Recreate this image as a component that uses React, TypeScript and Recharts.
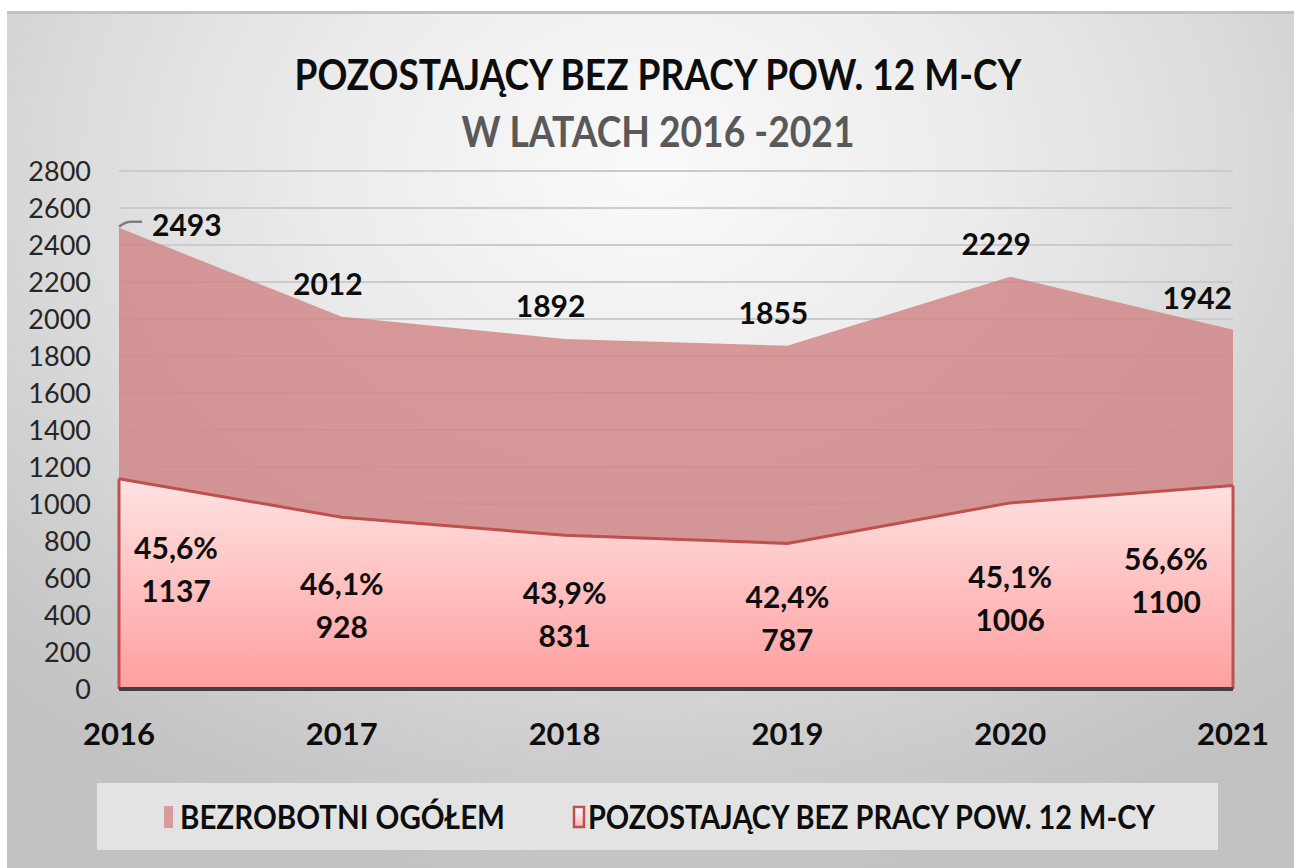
import React from 'react';
import {
  AreaChart,
  Area,
  XAxis,
  YAxis,
  CartesianGrid,
  LabelList,
  Legend,
  ReferenceLine,
} from 'recharts';

const categories = ['2016', '2017', '2018', '2019', '2020', '2021'];
const totalUnemployed = [2493, 2012, 1892, 1855, 2229, 1942];
const longTermUnemployed = [1137, 928, 831, 787, 1006, 1100];
const longTermShare = ['45,6%', '46,1%', '43,9%', '42,4%', '45,1%', '56,6%'];
const yTicks = [0, 200, 400, 600, 800, 1000, 1200, 1400, 1600, 1800, 2000, 2200, 2400, 2600, 2800];
const seriesNames = ['BEZROBOTNI OGÓŁEM', 'POZOSTAJĄCY BEZ PRACY POW. 12 M-CY'];
const titleLines = ['POZOSTAJĄCY BEZ PRACY POW. 12 M-CY', 'W LATACH 2016 -2021'];

const data = categories.map((year, i) => ({
  year,
  total: totalUnemployed[i],
  longTerm: longTermUnemployed[i],
}));

const W = 1294;
const H = 868;
const LEGEND_H = 67;
const MARGIN = { top: 171, right: 61, bottom: 52, left: 19 };
const XAXIS_H = 60;
const YAXIS_W = 100;
const PLOT_BOTTOM = H - MARGIN.bottom - XAXIS_H - LEGEND_H;
const FONT = 'Lato, "Open Sans", sans-serif';
const LAST = categories.length - 1;

const TotalLabel = (props: any) => {
  const { x, y, value, index } = props;
  const style = { fontFamily: FONT, fontWeight: 700, fontSize: 30, fill: '#0d0d0d' } as any;
  if (index === 0) {
    return (
      <g>
        <path
          d={`M ${x} ${y - 1} Q ${x + 6} ${y - 6} ${x + 12} ${y - 6} L ${x + 23} ${y - 6}`}
          stroke="#7f7f7f"
          strokeWidth={2.5}
          fill="none"
        />
        <text x={x + 33} y={y + 8} textAnchor="start" style={style}>
          {value}
        </text>
      </g>
    );
  }
  if (index === LAST) {
    return (
      <text x={x - 1} y={y - 21} textAnchor="end" style={style}>
        {value}
      </text>
    );
  }
  return (
    <text x={x - 14} y={y - 22} textAnchor="middle" style={style}>
      {value}
    </text>
  );
};

const LongTermLabel = (props: any) => {
  const { x, y, value, index } = props;
  const mid = (y + PLOT_BOTTOM) / 2;
  let cx = x;
  let base = mid - 8;
  if (index === 0) {
    cx = x + 57;
    base = mid - 25;
  } else if (index === LAST) {
    cx = x - 67;
    base = mid - 17;
  }
  const style = { fontFamily: FONT, fontWeight: 700, fontSize: 30, fill: '#0d0d0d' } as any;
  return (
    <g>
      <text x={cx} y={base} textAnchor="middle" style={style}>
        {longTermShare[index]}
      </text>
      <text x={cx} y={base + 43} textAnchor="middle" style={style}>
        {value}
      </text>
    </g>
  );
};

const LegendContent = () => (
  <svg width={1121} height={LEGEND_H} style={{ display: 'block' }}>
    <defs>
      <linearGradient id="legGrad" x1="0" y1="0" x2="0" y2="1">
        <stop offset="0%" stopColor="#ffffff" />
        <stop offset="100%" stopColor="#ffb3b3" />
      </linearGradient>
    </defs>
    <rect x={0} y={0} width={1121} height={LEGEND_H} fill="#e3e3e3" />
    <rect x={67} y={23} width={9} height={22} fill="#d69b9b" />
    <text
      x={83}
      y={46}
      textLength={325}
      lengthAdjust="spacingAndGlyphs"
      style={{ fontFamily: FONT, fontWeight: 700, fontSize: 32, fill: '#0d0d0d' } as any}
    >
      {seriesNames[0]}
    </text>
    <rect x={477} y={24} width={10} height={20} fill="url(#legGrad)" stroke="#c0504d" strokeWidth={2.5} />
    <text
      x={491}
      y={46}
      textLength={567}
      lengthAdjust="spacingAndGlyphs"
      style={{ fontFamily: FONT, fontWeight: 700, fontSize: 32, fill: '#0d0d0d' } as any}
    >
      {seriesNames[1]}
    </text>
  </svg>
);

export default function App() {
  return (
    <div style={{ position: 'relative', width: W, height: H, background: '#ffffff', overflow: 'hidden' }}>
      <style>{`body{margin:0}`}</style>
      <div
        style={{
          position: 'absolute',
          left: 7,
          top: 11,
          width: W - 7,
          height: H - 11,
          borderTop: '3px solid #c2c2c2',
          boxSizing: 'border-box',
          background:
            'radial-gradient(ellipse 72% 85% at 50% 18%, #fafafa 0%, #ececec 35%, #dadada 65%, #cbcbcb 85%, #c2c2c2 100%)',
        }}
      />
      <div style={{ position: 'absolute', left: 0, top: 0 }}>
        <AreaChart width={W} height={H} data={data} margin={MARGIN}>
          <defs>
            <linearGradient id="ltGrad" x1="0" y1="0" x2="0" y2="1">
              <stop offset="0%" stopColor="#ffe3e3" />
              <stop offset="100%" stopColor="#ff9f9f" />
            </linearGradient>
          </defs>
          <CartesianGrid vertical={false} stroke="#cbcbcb" strokeWidth={2} />
          <XAxis
            dataKey="year"
            height={XAXIS_H}
            axisLine={{ stroke: '#404040', strokeWidth: 4 }}
            tickLine={false}
            tickSize={0}
            tickMargin={34}
            tick={{ fontFamily: FONT, fontWeight: 700, fontSize: 31, fill: '#0d0d0d' }}
            interval={0}
          />
          <YAxis
            width={YAXIS_W}
            domain={[0, 2800]}
            ticks={yTicks}
            interval={0}
            axisLine={false}
            tickLine={false}
            tickSize={0}
            tickMargin={28}
            tick={{ fontFamily: FONT, fontSize: 27, fill: '#262626' }}
          />
          <Area
            type="linear"
            dataKey="total"
            name={seriesNames[0]}
            stroke="none"
            fill="#d08282"
            fillOpacity={0.8}
            isAnimationActive={false}
          >
            <LabelList dataKey="total" content={TotalLabel} />
          </Area>
          <Area
            type="linear"
            dataKey="longTerm"
            name={seriesNames[1]}
            stroke="#c0504d"
            strokeWidth={3}
            fill="url(#ltGrad)"
            fillOpacity={1}
            isAnimationActive={false}
          >
            <LabelList dataKey="longTerm" content={LongTermLabel} />
          </Area>
          <ReferenceLine
            segment={[
              { x: categories[0], y: 0 },
              { x: categories[0], y: longTermUnemployed[0] },
            ]}
            stroke="#c0504d"
            strokeWidth={3}
          />
          <ReferenceLine
            segment={[
              { x: categories[LAST], y: 0 },
              { x: categories[LAST], y: longTermUnemployed[LAST] },
            ]}
            stroke="#c0504d"
            strokeWidth={3}
          />
          <Legend
            content={LegendContent}
            wrapperStyle={{ position: 'absolute', left: 97, top: 783, width: 1121, height: LEGEND_H, bottom: 'auto' }}
          />
        </AreaChart>
      </div>
      <svg
        width={W}
        height={170}
        style={{ position: 'absolute', left: 0, top: 0, pointerEvents: 'none' }}
      >
        <text
          x={658}
          y={90}
          textAnchor="middle"
          textLength={727}
          lengthAdjust="spacingAndGlyphs"
          style={{ fontFamily: FONT, fontWeight: 700, fontSize: 42, fill: '#0d0d0d' } as any}
        >
          {titleLines[0]}
        </text>
        <text
          x={658}
          y={147}
          textAnchor="middle"
          textLength={393}
          lengthAdjust="spacingAndGlyphs"
          style={{ fontFamily: FONT, fontWeight: 700, fontSize: 42, fill: '#595959' } as any}
        >
          {titleLines[1]}
        </text>
      </svg>
    </div>
  );
}
